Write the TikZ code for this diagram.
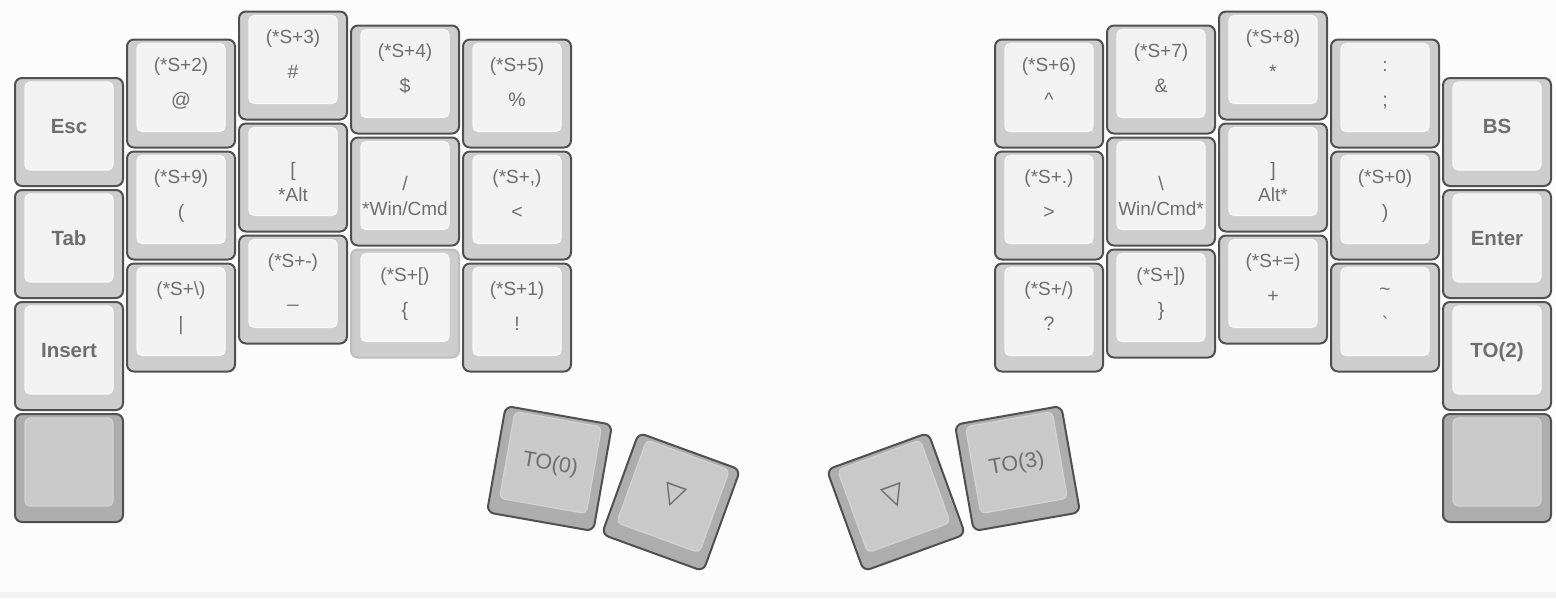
\documentclass[tikz,border=0pt]{standalone}
\usepackage{fontspec}
\setmainfont{Liberation Sans}
\newfontfamily\symfont{DejaVu Sans}
\definecolor{bgc}{HTML}{FCFCFC}
\definecolor{bandc}{HTML}{F2F2F2}
\definecolor{bordc}{HTML}{505050}
\definecolor{outc}{HTML}{CDCDCD}
\definecolor{innc}{HTML}{F2F2F2}
\definecolor{innbord}{HTML}{F8F8F8}
\definecolor{doutc}{HTML}{ADADAD}
\definecolor{dinnc}{HTML}{C9C9C9}
\definecolor{dinnbord}{HTML}{D3D3D3}
\definecolor{heldbord}{HTML}{BDBDBD}
\definecolor{heldinn}{HTML}{F4F4F4}
\definecolor{txt}{HTML}{6E6E6E}
\tikzset{
  light outer/.style={draw=bordc, fill=outc, line width=2pt, rounded corners=7pt},
  light inner/.style={draw=innbord, fill=innc, line width=1.2pt, rounded corners=5pt},
  dark outer/.style={draw=bordc, fill=doutc, line width=2pt, rounded corners=7pt},
  dark inner/.style={draw=dinnbord, fill=dinnc, line width=1.2pt, rounded corners=5pt},
  held outer/.style={draw=heldbord, fill=outc, line width=2pt, rounded corners=7pt},
  held inner/.style={draw=innbord, fill=heldinn, line width=1.2pt, rounded corners=5pt},
  lbl/.style={inner sep=0pt, anchor=base, text=txt},
  biglbl/.style={lbl, font=\fontsize{20.5}{24}\selectfont\bfseries},
  taplbl/.style={lbl, font=\fontsize{19.5}{23}\selectfont},
  smalllbl/.style={lbl, font=\fontsize{19}{22}\selectfont},
  thumblbl/.style={lbl, font=\fontsize{21.5}{24}\selectfont},
  trilbl/.style={inner sep=0pt, text=txt, font=\fontsize{29}{32}\selectfont\symfont},
}
% key cap: [style]{(x,y)}{angle}{labels}
\newcommand{\kcap}[4][light]{%
  \begin{scope}[shift={#2}, rotate=#3, every node/.append style={transform shape}]
    \draw[#1 outer] (-54,-54) rectangle (54,54);
    \draw[#1 inner] (-44,-50) rectangle (44,38);
    #4
  \end{scope}}
\newcommand{\onelbl}[2]{\node[biglbl] (#1) at (0,1.5) {#2};}
\newcommand{\shlbl}[3]{\node[smalllbl] (#1s) at (0,-22.5) {#2};\node[taplbl] (#1t) at (0,13) {#3};}
\newcommand{\hdlbl}[3]{\node[taplbl] (#1t) at (0,-1.5) {#2};\node[smalllbl] (#1h) at (0,24) {#3};}
\begin{document}
\begin{tikzpicture}[x=1pt, y=-1pt]
\useasboundingbox (0,0) rectangle (1556,598);
\fill[bgc] (0,0) rectangle (1556,598);
\fill[bandc] (0,592) rectangle (1556,598);
% ---- left half ----
\kcap{(69,132)}{0}{\onelbl{esc}{Esc}}
\kcap{(69,244)}{0}{\onelbl{tab}{Tab}}
\kcap{(69,356)}{0}{\onelbl{ins}{Insert}}
\kcap[dark]{(69,468)}{0}{}
\kcap{(181,93.5)}{0}{\shlbl{at}{(*S+2)}{@}}
\kcap{(181,205.5)}{0}{\shlbl{lp}{(*S+9)}{(}}
\kcap{(181,317.5)}{0}{\shlbl{pipe}{(*S+\textbackslash)}{|}}
\kcap{(293,65.5)}{0}{\shlbl{hash}{(*S+3)}{\#}}
\kcap{(293,177.5)}{0}{\hdlbl{lbr}{[}{*Alt}}
\kcap{(293,289.5)}{0}{\shlbl{us}{(*S+-)}{\_}}
\kcap{(405,79.5)}{0}{\shlbl{dol}{(*S+4)}{\$}}
\kcap{(405,191.5)}{0}{\hdlbl{sl}{/}{*Win/Cmd}}
\kcap[held]{(405,303.5)}{0}{\shlbl{lbc}{(*S+[)}{\{}}
\kcap{(517,93.5)}{0}{\shlbl{pct}{(*S+5)}{\%}}
\kcap{(517,205.5)}{0}{\shlbl{lt}{(*S+,)}{<}}
\kcap{(517,317.5)}{0}{\shlbl{ex}{(*S+1)}{!}}
% ---- thumbs ----
\kcap[dark]{(549.5,468.5)}{-10}{\node[thumblbl] (to0) at (0,1.5) {TO(0)};}
\kcap[dark]{(671,502)}{-20}{\node[trilbl] (trl) at (0,-6) {▽};}
\kcap[dark]{(896,502)}{20}{\node[trilbl] (trr) at (0,-6) {▽};}
\kcap[dark]{(1017.5,468.5)}{10}{\node[thumblbl] (to3) at (0,1.5) {TO(3)};}
% ---- right half ----
\kcap{(1049,93.5)}{0}{\shlbl{car}{(*S+6)}{\textasciicircum}}
\kcap{(1049,205.5)}{0}{\shlbl{gt}{(*S+.)}{>}}
\kcap{(1049,317.5)}{0}{\shlbl{qm}{(*S+/)}{?}}
\kcap{(1161,79.5)}{0}{\shlbl{amp}{(*S+7)}{\&}}
\kcap{(1161,191.5)}{0}{\hdlbl{bs}{\textbackslash}{Win/Cmd*}}
\kcap{(1161,303.5)}{0}{\shlbl{rbc}{(*S+])}{\}}}
\kcap{(1273,65.5)}{0}{\shlbl{ast}{(*S+8)}{*}}
\kcap{(1273,177.5)}{0}{\hdlbl{rbr}{]}{Alt*}}
\kcap{(1273,289.5)}{0}{\shlbl{plus}{(*S+=)}{+}}
\kcap{(1385,93.5)}{0}{\shlbl{semi}{:}{;}}
\kcap{(1385,205.5)}{0}{\shlbl{rp}{(*S+0)}{)}}
\kcap{(1385,317.5)}{0}{\shlbl{grv}{\textasciitilde}{\textasciigrave}}
\kcap{(1497,132)}{0}{\onelbl{bsp}{BS}}
\kcap{(1497,244)}{0}{\onelbl{ent}{Enter}}
\kcap{(1497,356)}{0}{\onelbl{to2}{TO(2)}}
\kcap[dark]{(1497,468)}{0}{}
\end{tikzpicture}
\end{document}
